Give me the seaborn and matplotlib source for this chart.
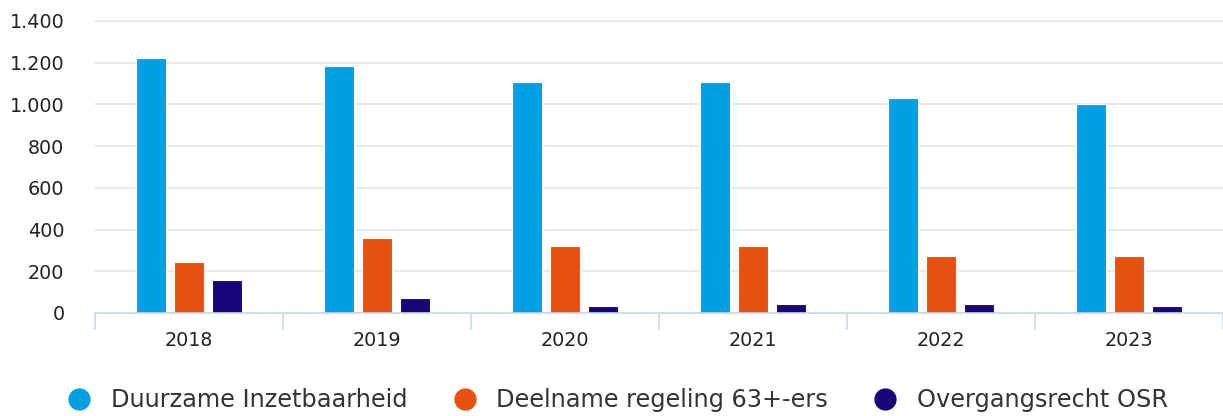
import matplotlib
matplotlib.use("Agg")
import matplotlib.pyplot as plt
import seaborn as sns
import pandas as pd
from matplotlib.lines import Line2D
from matplotlib.ticker import FuncFormatter, FixedLocator

# ── Data ──────────────────────────────────────────────────────────────────────
years = ["2018", "2019", "2020", "2021", "2022", "2023"]
duurzame = [1222, 1184, 1108, 1108, 1031, 1002]
deelname = [243, 360, 321, 321, 275, 275]
overgang = [157, 72, 34, 43, 43, 34]

series_names = ["Duurzame Inzetbaarheid", "Deelname regeling 63+-ers", "Overgangsrecht OSR"]
colors = ["#009FE3", "#E8500F", "#170577"]

df = pd.DataFrame({
    "year": years * 3,
    "value": duurzame + deelname + overgang,
    "series": [s for s in series_names for _ in years],
})

# ── Plot ──────────────────────────────────────────────────────────────────────
sns.set_style("white")
plt.rcParams["font.family"] = ["DejaVu Sans"]

fig = plt.figure(figsize=(12.23, 4.16), dpi=100)
ax = fig.add_axes([95 / 1223, 1 - 313 / 416, 1128 / 1223, 292 / 416])

sns.barplot(data=df, x="year", y="value", hue="series", order=years,
            hue_order=series_names, palette=colors, saturation=1,
            width=0.6, gap=0.2, edgecolor="white", linewidth=0.8,
            legend=False, ax=ax, zorder=3)

ax.set_xlim(-0.5, 5.5)
ax.set_ylim(0, 1400)
ax.set_yticks(range(0, 1401, 200))
ax.yaxis.set_major_formatter(FuncFormatter(lambda v, p: f"{v:,.0f}".replace(",", ".")))
ax.grid(True, axis="y", color="#e6e6e6", linewidth=1.2, zorder=0)
for gl in ax.get_ygridlines():
    gl.set_clip_on(False)
ax.set_axisbelow(True)

for side in ["top", "right", "left"]:
    ax.spines[side].set_visible(False)
ax.spines["bottom"].set_color("#ccd6eb")
ax.spines["bottom"].set_linewidth(1.2)
ax.spines["bottom"].set_zorder(4)

ax.xaxis.set_minor_locator(FixedLocator([i - 0.5 for i in range(len(years) + 1)]))
ax.tick_params(axis="x", which="minor", bottom=True, length=12, width=1.2, color="#ccd6eb")
ax.tick_params(axis="x", which="major", length=0, pad=13, labelsize=13.8, labelcolor="#222222")
ax.tick_params(axis="y", length=0, pad=22, labelsize=13.8, labelcolor="#222222")
ax.set_xlabel("")
ax.set_ylabel("")

handles = [Line2D([0], [0], marker="o", linestyle="", markersize=15,
                  markerfacecolor=c, markeredgecolor=c) for c in colors]
fig.legend(handles, series_names, loc="center", bbox_to_anchor=(0.5, 1 - 400 / 416),
           ncol=3, frameon=False, fontsize=17.3, handletextpad=0.3,
           columnspacing=1.4, labelcolor="#333333")

fig.savefig("out.png", dpi=100)
